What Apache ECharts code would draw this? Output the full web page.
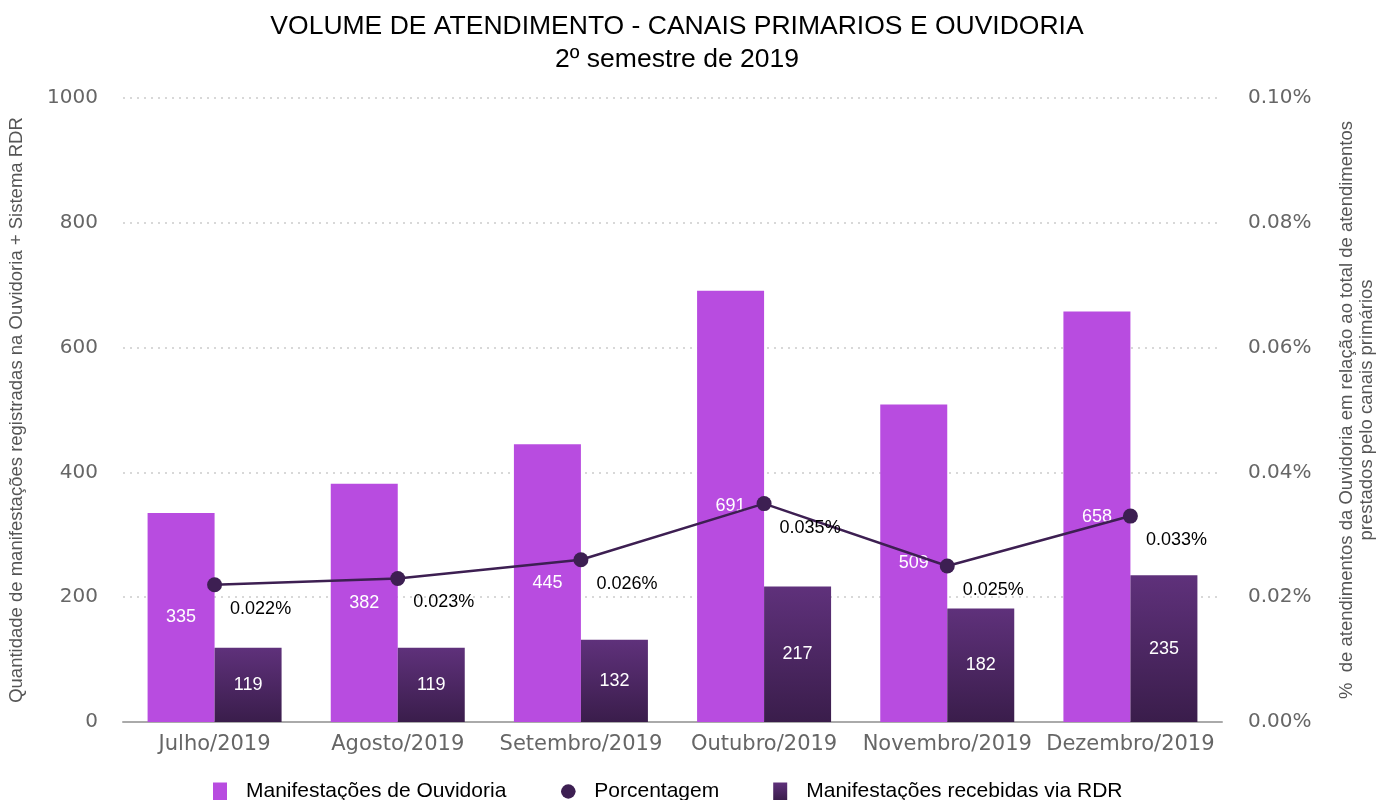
<!DOCTYPE html>
<html>
<head>
<meta charset="utf-8">
<script src="https://cdn.jsdelivr.net/npm/echarts@6/dist/echarts.min.js"></script>
<style>
  html, body { margin: 0; padding: 0; background: #fff; }
  #chart { width: 1377px; height: 800px; }
</style>
</head>
<body>
<div id="chart"></div>
<script>
// dados
var months = ['Julho/2019', 'Agosto/2019', 'Setembro/2019', 'Outubro/2019', 'Novembro/2019', 'Dezembro/2019']
var ouvidoria = [335, 382, 445, 691, 509, 658]
var rdr = [119, 119, 132, 217, 182, 235]
var porcentagem = [0.022, 0.023, 0.026, 0.035, 0.025, 0.033]

var chart = echarts.init(document.getElementById('chart'))

chart.setOption({
  animation: false,
  title: {
    text: 'VOLUME DE ATENDIMENTO - CANAIS PRIMARIOS E OUVIDORIA\n2º semestre de 2019',
    left: 672,
    top: 5,
    textAlign: 'center',
    textStyle: {
      fontFamily: 'Liberation Sans',
      fontSize: 26.5,
      fontWeight: 'normal',
      color: '#000',
      lineHeight: 33
    }
  },
  grid: {
    left: 123,
    right: 155,
    top: 98,
    bottom: 78,
    outerBoundsMode: 'none'
  },
  legend: {
    left: 208,
    top: 776,
    itemWidth: 14,
    itemHeight: 18,
    itemGap: 54,
    textStyle: {
      fontFamily: 'Liberation Sans',
      fontSize: 21,
      color: '#000',
      padding: [0, 0, 0, 14]
    },
    data: [
      { name: 'Manifestações de Ouvidoria', icon: 'rect' },
      { name: 'Porcentagem' },
      { name: 'Manifestações recebidas via RDR', icon: 'rect' }
    ]
  },
  xAxis: {
    type: 'category',
    data: months,
    axisTick: { show: false },
    axisLine: { lineStyle: { color: '#aaa', width: 2 } },
    axisLabel: {
      interval: 0,
      fontFamily: 'DejaVu Sans',
      fontSize: 21,
      color: '#666',
      margin: 12
    }
  },
  yAxis: [
    {
      type: 'value',
      min: 0,
      max: 1000,
      interval: 200,
      name: 'Quantidade de manifestações registradas na Ouvidoria + Sistema RDR',
      nameLocation: 'middle',
      nameRotate: 90,
      nameGap: 97,
      nameTextStyle: { fontFamily: 'Liberation Sans', fontSize: 18.5, color: '#555' },
      axisLabel: {
        fontFamily: 'DejaVu Sans',
        fontSize: 20,
        color: '#666',
        margin: 25,
        formatter: function (v) { return String(v) }
      },
      splitLine: { lineStyle: { type: [2, 5], color: '#ccc', width: 1.5 } }
    },
    {
      type: 'value',
      min: 0,
      max: 0.1,
      interval: 0.02,
      position: 'right',
      name: '%  de atendimentos da Ouvidoria em relação ao total de atendimentos\nprestados pelo canais primários',
      nameLocation: 'middle',
      nameRotate: 90,
      nameGap: 115,
      nameTextStyle: { fontFamily: 'Liberation Sans', fontSize: 18.5, color: '#555', lineHeight: 20 },
      axisLabel: {
        fontFamily: 'DejaVu Sans',
        fontSize: 20,
        color: '#666',
        margin: 26,
        formatter: function (v) { return v.toFixed(2) + '%' }
      },
      splitLine: { show: false }
    }
  ],
  series: [
    {
      name: 'Manifestações de Ouvidoria',
      type: 'bar',
      data: ouvidoria,
      barWidth: 67,
      barGap: '0%',
      itemStyle: { color: '#b84ce0' },
      label: {
        show: true,
        position: 'inside',
        color: '#fff',
        fontFamily: 'Liberation Sans',
        fontSize: 18
      }
    },
    {
      name: 'Manifestações recebidas via RDR',
      type: 'bar',
      data: rdr,
      barWidth: 67,
      barGap: '0%',
      itemStyle: {
        color: new echarts.graphic.LinearGradient(0, 0, 0, 1, [
          { offset: 0, color: '#5f317b' },
          { offset: 1, color: '#3a1d4b' }
        ])
      },
      label: {
        show: true,
        position: 'inside',
        color: '#fff',
        fontFamily: 'Liberation Sans',
        fontSize: 18
      }
    },
    {
      name: 'Porcentagem',
      type: 'line',
      yAxisIndex: 1,
      data: porcentagem,
      symbol: 'circle',
      symbolSize: 15,
      z: 5,
      lineStyle: { color: '#3d1f52', width: 2.5 },
      itemStyle: { color: '#3d1f52' },
      label: {
        show: true,
        position: 'right',
        distance: 8,
        offset: [0, 24],
        color: '#000',
        fontFamily: 'Liberation Sans',
        fontSize: 18,
        formatter: function (p) { return p.value.toFixed(3) + '%' }
      }
    }
  ]
})
</script>
</body>
</html>
